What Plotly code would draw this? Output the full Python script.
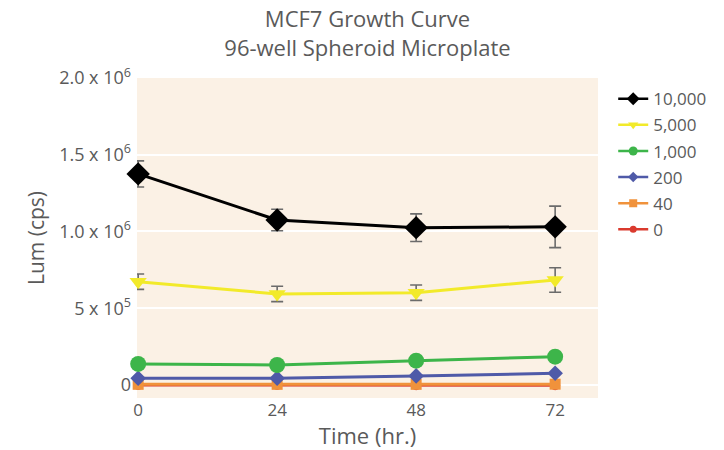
import plotly.graph_objects as go

time_hr = [0, 24, 48, 72]
series_names = ["10,000", "5,000", "1,000", "200", "40", "0"]
lum_10000 = [1.375e6, 1.075e6, 1.025e6, 1.03e6]
err_10000 = [0.085e6, 0.07e6, 0.09e6, 0.135e6]
lum_5000 = [0.673e6, 0.593e6, 0.601e6, 0.684e6]
err_5000 = [0.05e6, 0.05e6, 0.05e6, 0.08e6]
lum_1000 = [0.137e6, 0.130e6, 0.158e6, 0.184e6]
lum_200 = [0.044e6, 0.044e6, 0.059e6, 0.076e6]
lum_40 = [0.004e6, 0.004e6, 0.004e6, 0.005e6]
lum_0 = [0.0, 0.0, -0.002e6, -0.002e6]
y_tick_vals = [0, 0.5e6, 1.0e6, 1.5e6, 2.0e6]
y_tick_text = ["0", "5 x 10<sup>5</sup>", "1.0 x 10<sup>6</sup>",
               "1.5 x 10<sup>6</sup>", "2.0 x 10<sup>6</sup>"]

styles = [
    dict(color="#000000", symbol="diamond", size=18, lsize=10),
    dict(color="#F2EA2A", symbol="triangle-down", size=15, lsize=9),
    dict(color="#3DB54A", symbol="circle", size=16, lsize=9),
    dict(color="#4F5AA8", symbol="diamond", size=12, lsize=8),
    dict(color="#F0923B", symbol="square", size=11, lsize=8),
    dict(color="#DA3A2E", symbol="circle", size=10, lsize=7),
]
values = [lum_10000, lum_5000, lum_1000, lum_200, lum_40, lum_0]
errors = [err_10000, err_5000, None, None, None, None]

fig = go.Figure()
# data traces, drawn from lowest series upward
for i in [5, 4, 3, 2, 1, 0]:
    st = styles[i]
    kw = {}
    if errors[i] is not None:
        kw["error_y"] = dict(type="data", array=errors[i], visible=True,
                             color="#6b6b6b", thickness=1.6, width=6)
    fig.add_trace(go.Scatter(
        x=time_hr, y=values[i], name=series_names[i], mode="lines+markers",
        line=dict(color=st["color"], width=3),
        marker=dict(color=st["color"], symbol=st["symbol"], size=st["size"]),
        cliponaxis=False, showlegend=False, **kw))
# legend entries with small symbols
for i in range(6):
    st = styles[i]
    fig.add_trace(go.Scatter(
        x=[None], y=[None], name=series_names[i], mode="lines+markers",
        line=dict(color=st["color"], width=2.5),
        marker=dict(color=st["color"], symbol=st["symbol"], size=st["lsize"]),
        legendgroup=series_names[i], legendrank=i + 1, showlegend=True))

fig.update_layout(
    width=724, height=450,
    margin=dict(l=137, r=126, t=78, b=52),
    paper_bgcolor="white",
    plot_bgcolor="#FBF1E5",
    font=dict(family="Open Sans", color="#5a5a5a"),
    title=dict(text="MCF7 Growth Curve<br>96-well Spheroid Microplate",
               x=0.5, xref="paper", xanchor="center",
               yref="container", y=0.94, yanchor="middle",
               font=dict(size=22, color="#5a5a5a")),
    showlegend=True,
    legend=dict(x=1.033, y=0.99, xanchor="left", yanchor="top",
                font=dict(size=17, color="#5a5a5a"),
                bgcolor="rgba(0,0,0,0)", tracegroupgap=1,
                itemwidth=30),
    xaxis=dict(range=[-0.2, 79.4], tickvals=time_hr,
               ticktext=[str(t) for t in time_hr],
               showgrid=False, zeroline=False, showline=False,
               tickfont=dict(size=17, color="#5a5a5a"),
               title=dict(text="Time (hr.)", font=dict(size=22, color="#5a5a5a"),
                          standoff=2)),
    yaxis=dict(range=[-0.085e6, 2.0e6], tickvals=y_tick_vals,
               ticktext=y_tick_text, ticklabelstandoff=5,
               showgrid=True, gridcolor="white", gridwidth=2,
               zeroline=False, showline=False,
               tickfont=dict(size=18, color="#5a5a5a"),
               title=dict(text="Lum (cps)", font=dict(size=21, color="#5a5a5a"),
                          standoff=8)),
)

fig.write_html("out.html", config={"displayModeBar": False},
               post_script="document.body.style.margin='0';")
